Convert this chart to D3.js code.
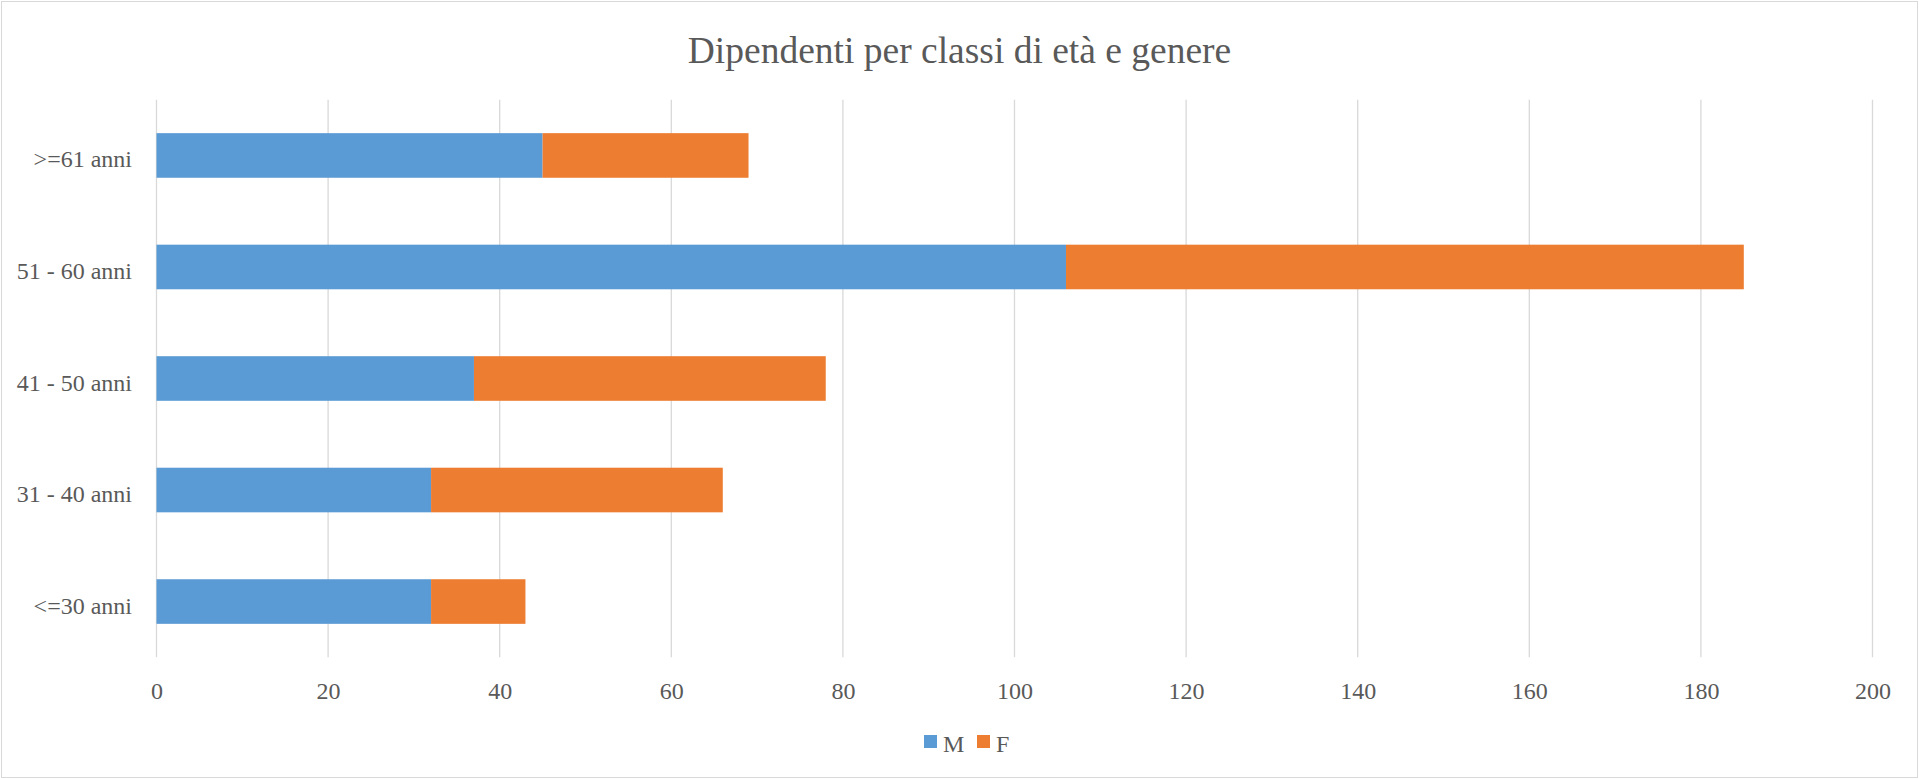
<!DOCTYPE html>
<html lang="it">
<head>
	<meta charset="utf-8">
	<title>Dipendenti per classi di età e genere</title>
	<script src="https://d3js.org/d3.v7.min.js"></script>
	<style>
	html, body { margin: 0; padding: 0; background: #fff; }
	</style>
</head>
<body>
	<div id="chart"></div>
	<script>
		// data
		let categories = ["<=30 anni", "31 - 40 anni", "41 - 50 anni", "51 - 60 anni", ">=61 anni"];
		let maschi = [32, 32, 37, 106, 45];
		let femmine = [11, 34, 41, 79, 24];
		let seriesNames = ["M", "F"];
		let seriesColors = ["#5B9BD5", "#ED7D31"];
		let xTicks = [0, 20, 40, 60, 80, 100, 120, 140, 160, 180, 200];

		let width = 1919;
		let height = 779;
		let plot = { left: 156.5, right: 1872.5, top: 99.7, bottom: 657.3 };
		let serif = "'Liberation Serif', 'Times New Roman', serif";
		let textColor = "#595959";

		let svg = d3.select("#chart")
					.append("svg")
					.attr("width", width)
					.attr("height", height);

		// chart border
		svg.append("rect")
			.attr("x", 1.5).attr("y", 1.5)
			.attr("width", width - 3).attr("height", height - 3)
			.attr("fill", "#fff")
			.attr("stroke", "#d9d9d9")
			.attr("stroke-width", 1);

		// title
		svg.append("text")
			.attr("x", width / 2)
			.attr("y", 63)
			.attr("text-anchor", "middle")
			.style("font-family", serif)
			.style("fill", textColor)
			.style("font-size", "37.5px")
			.text("Dipendenti per classi di età e genere");

		let x = d3.scaleLinear()
					.domain([0, 200])
					.range([plot.left, plot.right]);

		let y = d3.scaleBand()
					.domain(categories.slice().reverse())
					.range([plot.top, plot.bottom])
					.paddingInner(0.6)
					.paddingOuter(0.3);

		// vertical gridlines
		svg.append("g")
			.selectAll("line")
			.data(xTicks)
			.enter()
			.append("line")
			.attr("x1", d => x(d)).attr("x2", d => x(d))
			.attr("y1", plot.top).attr("y2", plot.bottom)
			.attr("stroke", "#d9d9d9")
			.attr("stroke-width", 1.3);

		// stacked bars
		let rows = categories.map((c, i) => ({ cat: c, M: maschi[i], F: femmine[i] }));
		let stack = d3.stack().keys(seriesNames)(rows);
		let color = d3.scaleOrdinal().domain(seriesNames).range(seriesColors);

		svg.append("g")
			.selectAll("g")
			.data(stack)
			.enter()
			.append("g")
			.attr("fill", d => color(d.key))
			.selectAll("rect")
			.data(d => d)
			.enter()
			.append("rect")
			.attr("x", d => x(d[0]))
			.attr("width", d => x(d[1]) - x(d[0]))
			.attr("y", d => y(d.data.cat))
			.attr("height", y.bandwidth());

		// x axis labels
		let xAxis = svg.append("g")
			.attr("transform", "translate(0," + 699 + ")")
			.attr("font-family", serif)
			.call(d3.axisBottom(x).tickValues(xTicks).tickSize(0).tickPadding(0));
		xAxis.select(".domain").remove();
		xAxis.selectAll("text")
			.attr("dy", 0)
			.style("font-family", serif)
			.style("font-size", "24px")
			.style("fill", textColor);

		// y axis labels
		let yAxis = svg.append("g")
			.attr("transform", "translate(" + 132 + ",0)")
			.attr("font-family", serif)
			.call(d3.axisLeft(y).tickSize(0).tickPadding(0));
		yAxis.select(".domain").remove();
		yAxis.selectAll("text")
			.attr("dy", "0.5em")
			.style("font-family", serif)
			.style("font-size", "24px")
			.style("fill", textColor);

		// legend
		let legendX = [924, 977];
		let legend = svg.append("g")
			.selectAll("g")
			.data(seriesNames)
			.enter()
			.append("g")
			.attr("transform", (d, i) => "translate(" + legendX[i] + "," + 735 + ")");
		legend.append("rect")
			.attr("width", 13).attr("height", 13)
			.attr("fill", d => color(d));
		legend.append("text")
			.attr("x", 19)
			.attr("y", 17)
			.style("font-family", serif)
			.style("fill", textColor)
			.style("font-size", "24px")
			.text(d => d);
	</script>
</body>
</html>
